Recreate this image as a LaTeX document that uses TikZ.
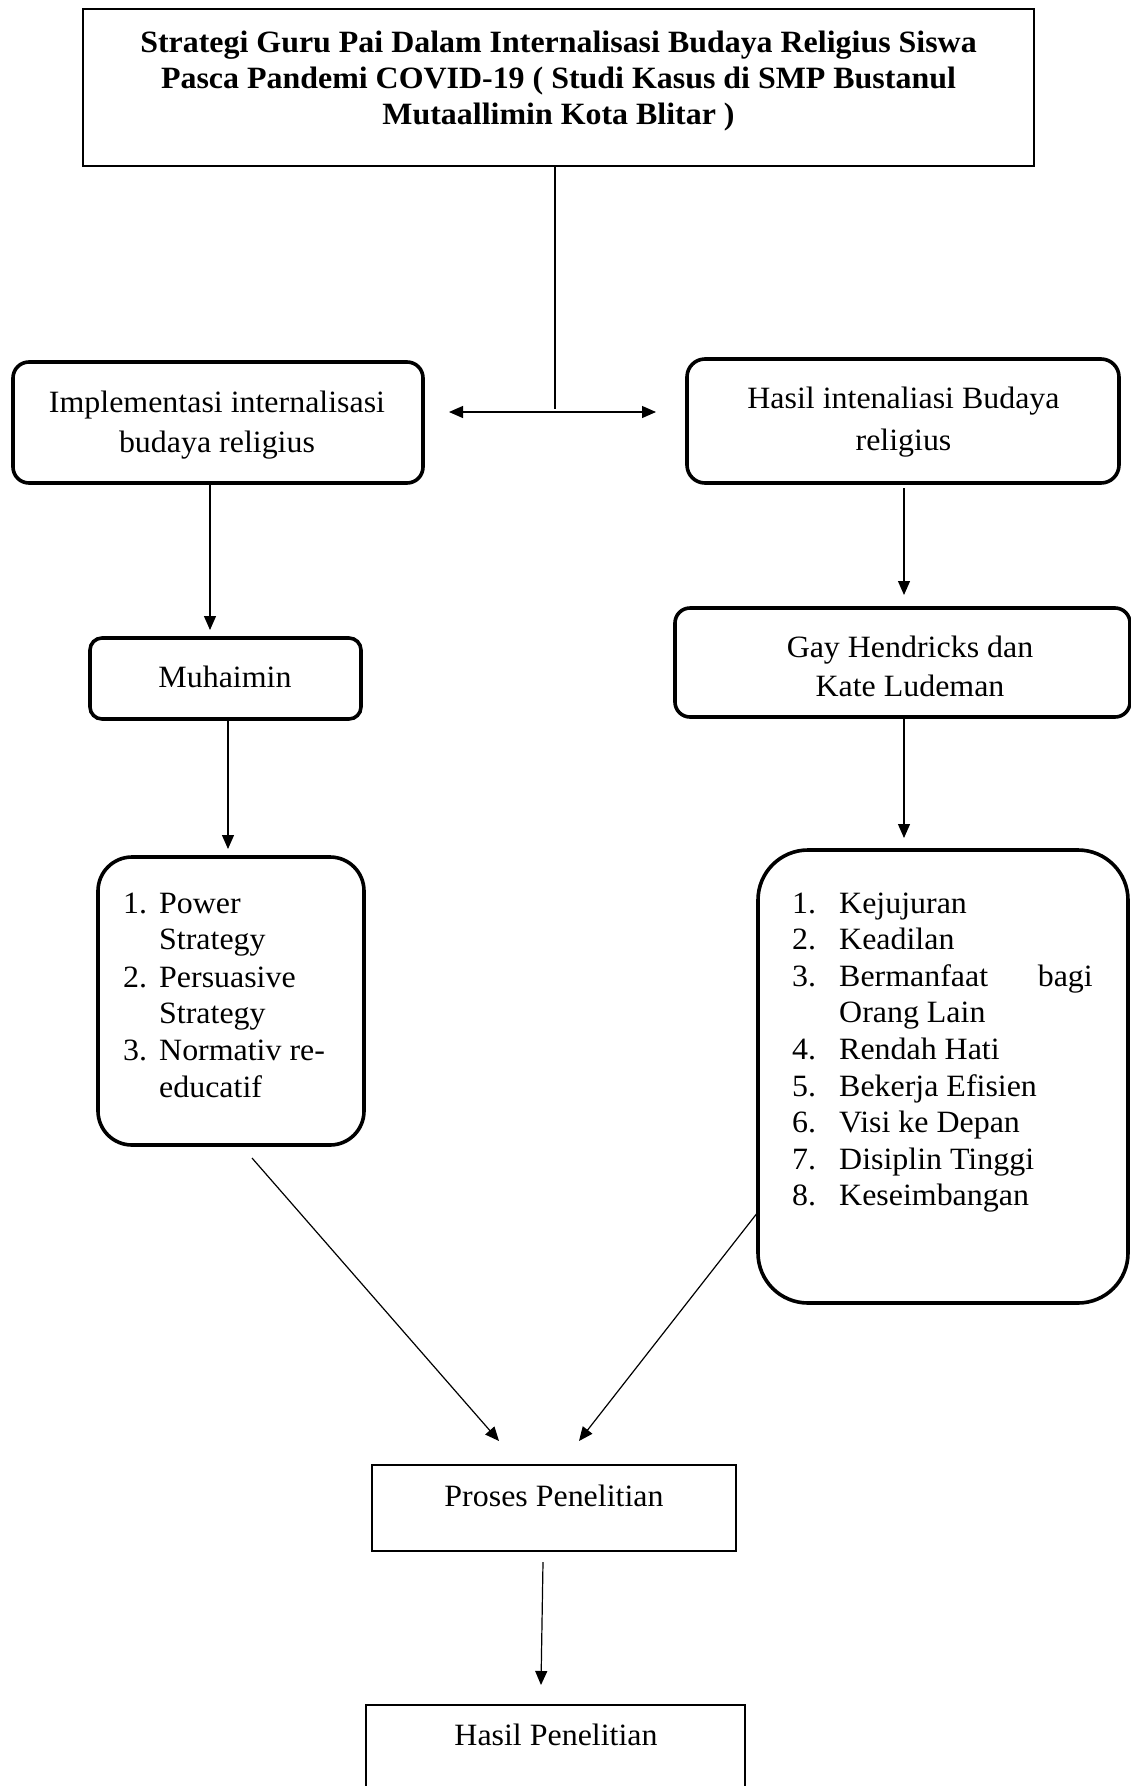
\documentclass[tikz,border=0pt]{standalone}
\usepackage{fontspec}
\setmainfont{Liberation Serif}[FakeStretch=1.03]
\usetikzlibrary{arrows.meta}
\begin{document}
\begin{tikzpicture}[x=1pt,y=-1pt,
  rbox/.style={draw, line width=3.6pt, rounded corners=#1, inner sep=0pt, outer sep=0pt},
  sbox/.style={draw, line width=#1, inner sep=0pt, outer sep=0pt},
  txt/.style={inner sep=0pt, anchor=base, font=\fontsize{31}{36}\selectfont},
  txtw/.style={txt, anchor=base west},
  arr/.style={line width=1.2pt, -{Triangle[length=14pt,width=12pt]}},
  darr/.style={line width=1.2pt, {Triangle[length=14pt,width=12pt]}-{Triangle[length=14pt,width=12pt]}},
  plain/.style={line width=1.2pt}]
\fill[white] (0,0) rectangle (1131,1786);
\useasboundingbox (0,0) rectangle (1131,1786);
\clip (0,0) rectangle (1131,1786);

% boxes
\node[sbox=2.6pt, minimum width=951pt, minimum height=157pt] (title) at (558.5,87.5) {};
\node[rbox=16pt, minimum width=410pt, minimum height=121pt] (impl) at (218,422.5) {};
\node[rbox=18pt, minimum width=432pt, minimum height=124pt] (hint) at (903,421) {};
\node[rbox=12pt, minimum width=271pt, minimum height=81pt] (muh) at (225.5,678.5) {};
\node[rbox=15pt, minimum width=455pt, minimum height=109pt] (gay) at (902.5,662.5) {};
\node[rbox=34pt, minimum width=266pt, minimum height=288pt] (llist) at (231,1001) {};
\node[rbox=50pt, minimum width=370pt, minimum height=453pt] (rlist) at (943,1076.5) {};
\node[sbox=1.3pt, minimum width=364pt, minimum height=86pt] (proses) at (554,1508) {};
\node[sbox=2.6pt, minimum width=379pt, minimum height=95pt] (hpen) at (555.5,1752.5) {};

% title text
\node[txt, font=\fontsize{31}{36}\selectfont\bfseries] (ti1) at (558.5,52) {Strategi Guru Pai Dalam Internalisasi Budaya Religius Siswa};
\node[txt, font=\fontsize{31}{36}\selectfont\bfseries] (ti2) at (558.5,88) {Pasca Pandemi COVID-19 ( Studi Kasus di SMP Bustanul};
\node[txt, font=\fontsize{31}{36}\selectfont\bfseries] (ti3) at (558.5,124) {Mutaallimin Kota Blitar )};

% box texts
\node[txt] (im1) at (217,412) {Implementasi internalisasi};
\node[txt] (im2) at (217,452) {budaya religius};
\node[txt] (hi1) at (903.5,408) {Hasil intenaliasi Budaya};
\node[txt] (hi2) at (903.5,450) {religius};
\node[txt] (mu1) at (225,687) {Muhaimin};
\node[txt] (ga1) at (910,657) {Gay Hendricks dan};
\node[txt] (ga2) at (910,696) {Kate Ludeman};
\node[txt] (pr1) at (554,1506) {Proses Penelitian};
\node[txt] (hp1) at (556,1745) {Hasil Penelitian};

% left list
\node[txtw] (ln1) at (123,913) {1.};
\node[txtw] (lt1) at (159,913) {Power};
\node[txtw] (lt1b) at (159,949) {Strategy};
\node[txtw] (ln2) at (123,987) {2.};
\node[txtw] (lt2) at (159,987) {Persuasive};
\node[txtw] (lt2b) at (159,1023) {Strategy};
\node[txtw] (ln3) at (123,1060) {3.};
\node[txtw] (lt3) at (159,1060) {Normativ re-};
\node[txtw] (lt3b) at (159,1097) {educatif};

% right list
\node[txtw] (rn1) at (792,913) {1.};
\node[txtw] (rt1) at (839,913) {Kejujuran};
\node[txtw] (rn2) at (792,949) {2.};
\node[txtw] (rt2) at (839,949) {Keadilan};
\node[txtw] (rn3) at (792,986) {3.};
\node[txtw] (rt3) at (839,986) {Bermanfaat};
\node[txt, anchor=base east] (rt3c) at (1093,986) {bagi};
\node[txtw] (rt3b) at (839,1022) {Orang Lain};
\node[txtw] (rn4) at (792,1059) {4.};
\node[txtw] (rt4) at (839,1059) {Rendah Hati};
\node[txtw] (rn5) at (792,1096) {5.};
\node[txtw] (rt5) at (839,1096) {Bekerja Efisien};
\node[txtw] (rn6) at (792,1132) {6.};
\node[txtw] (rt6) at (839,1132) {Visi ke Depan};
\node[txtw] (rn7) at (792,1169) {7.};
\node[txtw] (rt7) at (839,1169) {Disiplin Tinggi};
\node[txtw] (rn8) at (792,1205) {8.};
\node[txtw] (rt8) at (839,1205) {Keseimbangan};

% connector end points
\coordinate (tstart) at (title.south -| 555,0);
\coordinate (mid) at (555,409);
\coordinate (aleft) at (449,412);
\coordinate (aright) at (656,412);
\coordinate (imtip) at (210,630);
\coordinate (hitip) at (904,595);
\coordinate (mutip) at (228,849);
\coordinate (gatip) at (904,838);
\coordinate (lstart) at (252,1158);
\coordinate (ltip) at (499,1441);
\coordinate (rstart) at (758,1212);
\coordinate (rtip) at (579,1441);
\coordinate (pstart) at (543,1562);
\coordinate (ptip) at (541,1685);

\draw[plain] (tstart) -- (mid);
\draw[darr] (aleft) -- (aright);
\draw[arr] (impl.south -| imtip) -- (imtip);
\draw[arr] (hint.south -| hitip) ++(0,5) -- (hitip);
\draw[arr] (muh.south -| mutip) -- (mutip);
\draw[arr] (gay.south -| gatip) -- (gatip);
\draw[arr] (lstart) -- (ltip);
\draw[arr] (rstart) -- (rtip);
\draw[arr] (pstart) -- (ptip);
\end{tikzpicture}
\end{document}
